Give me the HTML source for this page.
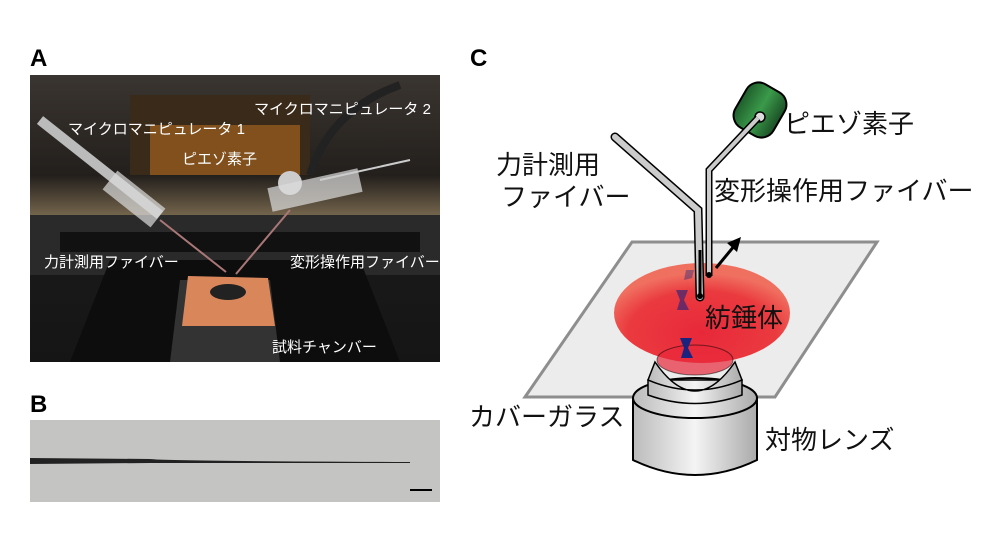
<!DOCTYPE html>
<html><head><meta charset="utf-8"><style>
body{margin:0;width:1000px;height:531px;background:#fff;overflow:hidden;font-family:"Liberation Sans","Noto Sans CJK JP",sans-serif}
</style></head><body>
<svg width="1000" height="531" viewBox="0 0 1000 531" xmlns="http://www.w3.org/2000/svg" font-family="Liberation Sans, Noto Sans CJK JP, sans-serif">
<defs>
<radialGradient id="red" cx="0.5" cy="0.7" r="0.6"><stop offset="0" stop-color="#e8283a"/><stop offset="0.7" stop-color="#ea3a3f"/><stop offset="1" stop-color="#f07060"/></radialGradient>
<linearGradient id="cyl" x1="0" x2="1"><stop offset="0" stop-color="#bbb"/><stop offset="0.5" stop-color="#f4f4f4"/><stop offset="1" stop-color="#aaa"/></linearGradient>
<linearGradient id="bg" x1="0" y1="0" x2="0" y2="1"><stop offset="0" stop-color="#3a3530"/><stop offset="0.35" stop-color="#231f1c"/><stop offset="0.5" stop-color="#7a6a50"/><stop offset="0.58" stop-color="#1a1a1a"/><stop offset="1" stop-color="#151515"/></linearGradient>
<linearGradient id="gr" x1="0" x2="1"><stop offset="0" stop-color="#1f5e2c"/><stop offset="0.5" stop-color="#3a9a4a"/><stop offset="1" stop-color="#1b4f25"/></linearGradient>
</defs>
<text x="30" y="66" font-size="24" font-weight="bold">A</text>
<text x="30" y="412" font-size="24" font-weight="bold">B</text>
<text x="470" y="66" font-size="24" font-weight="bold">C</text>
<!-- Photo A -->
<rect x="30" y="75" width="410" height="287" fill="url(#bg)"/>
<rect x="130" y="95" width="180" height="80" fill="#3a2a1a"/>
<rect x="150" y="125" width="150" height="50" fill="#b06a20" opacity="0.6"/>
<rect x="30" y="215" width="410" height="60" fill="#2a2a2a"/>
<rect x="60" y="232" width="360" height="20" fill="#111"/>
<polygon points="110,260 360,260 400,362 70,362" fill="#0d0d0d"/>
<polygon points="180,280 270,280 280,362 170,362" fill="#333"/>
<polygon points="188,276 268,278 275,326 182,326" fill="#d9865a"/>
<ellipse cx="228" cy="292" rx="18" ry="8" fill="#222"/>
<line x1="40" y1="120" x2="160" y2="215" stroke="#bbb" stroke-width="10"/>
<line x1="110" y1="180" x2="158" y2="218" stroke="#ddd" stroke-width="24" opacity="0.7"/>
<line x1="160" y1="220" x2="226" y2="272" stroke="#a77" stroke-width="2"/>
<path d="M310,175 Q330,110 400,85" stroke="#222" stroke-width="8" fill="none"/>
<circle cx="290" cy="183" r="12" fill="#ccc"/>
<line x1="270" y1="200" x2="360" y2="180" stroke="#ddd" stroke-width="24" opacity="0.7"/>
<line x1="290" y1="210" x2="236" y2="274" stroke="#a77" stroke-width="2"/>
<line x1="320" y1="180" x2="410" y2="160" stroke="#ccc" stroke-width="2"/>
<g fill="#fff" font-size="15">
<text x="254" y="114">マイクロマニピュレータ 2</text>
<text x="68" y="134">マイクロマニピュレータ 1</text>
<text x="182" y="164">ピエゾ素子</text>
<text x="44" y="267">力計測用ファイバー</text>
<text x="290" y="267">変形操作用ファイバー</text>
<text x="272" y="352">試料チャンバー</text>
</g>
<!-- Panel B -->
<rect x="30" y="420" width="410" height="82" fill="#c4c4c2"/>
<path d="M30,458 L150,459 Q165,461 410,462 L410,463 Q165,463 150,463 L30,464Z" fill="#222"/>
<line x1="410" y1="490" x2="432" y2="490" stroke="#000" stroke-width="2"/>
<!-- Panel C -->
<polygon points="632,242 877,242 775,397 525,397" fill="#ececec" stroke="#888" stroke-width="3" opacity="0.95"/>
<ellipse cx="702" cy="313" rx="88" ry="50" fill="url(#red)"/>
<path d="M633,398 L633,460 Q695,490 757,460 L757,398 Z" fill="url(#cyl)" stroke="#000" stroke-width="2"/>
<ellipse cx="695" cy="398" rx="62" ry="20" fill="url(#cyl)" stroke="#000" stroke-width="2"/>
<path d="M648,380 L648,395 Q695,412 742,395 L742,380 Z" fill="url(#cyl)" stroke="#000" stroke-width="1.5"/>
<path d="M655,362 Q695,420 735,362 L742,380 Q695,400 648,380 Z" fill="url(#cyl)" stroke="#000" stroke-width="1.5"/>
<ellipse cx="695" cy="360" rx="38" ry="15" fill="#e8283a" fill-opacity="0.7" stroke="#000" stroke-width="1" stroke-opacity="0.5"/>
<g fill="#1a237e">
<path d="M680,338 l12,0 l-4,10 l5,10 l-12,0 l3,-10z"/>
<path d="M676,290 l12,0 l-4,10 l5,10 l-12,0 l3,-10z" opacity="0.6"/>
<path d="M686,270 l8,0 l-2,8 l-8,2z" opacity="0.4"/>
</g>
<path d="M615,137 L698,210 L700,297" stroke="#000" stroke-width="9" fill="none" stroke-linecap="round"/>
<path d="M615,137 L698,210 L700,297" stroke="#ccc" stroke-width="6" fill="none" stroke-linecap="round"/>
<path d="M700,250 L700,297" stroke="#000" stroke-width="3"/>
<circle cx="700" cy="296" r="3" fill="#000"/>
<g transform="rotate(30 760 110)">
<rect x="738" y="85" width="44" height="50" rx="14" fill="url(#gr)" stroke="#000" stroke-width="2"/>
</g>
<circle cx="760" cy="117" r="5" fill="#ddd" stroke="#000" stroke-width="1.5"/>
<path d="M758,118 L709,170 L709,276" stroke="#000" stroke-width="7" fill="none"/>
<path d="M758,118 L709,170 L709,276" stroke="#ccc" stroke-width="4" fill="none"/>
<circle cx="709" cy="275" r="3" fill="#000"/>
<line x1="716" y1="268" x2="735" y2="245" stroke="#000" stroke-width="3"/>
<polygon points="741,237 727,243 737,252" fill="#000"/>
<g font-size="26" fill="#111">
<text x="784" y="133">ピエゾ素子</text>
<text x="496" y="174">力計測用</text>
<text x="501" y="206">ファイバー</text>
<text x="714" y="200">変形操作用ファイバー</text>
<text x="705" y="327">紡錘体</text>
<text x="469" y="426">カバーガラス</text>
<text x="765" y="449">対物レンズ</text>
</g>
</svg>
</body></html>
